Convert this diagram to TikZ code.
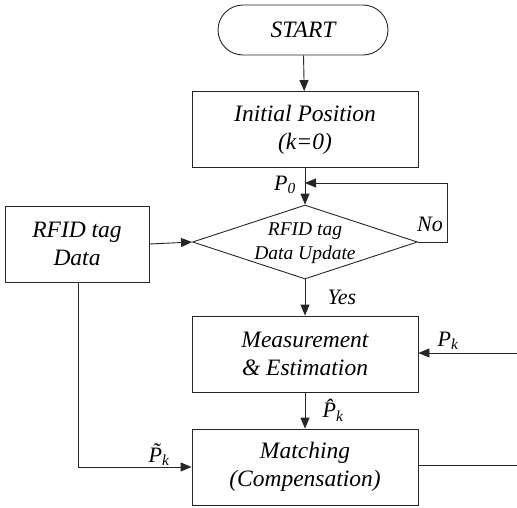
\documentclass[tikz,border=0pt]{standalone}
\usepackage{fontspec}
\setmainfont{Liberation Serif}[ItalicFont={Liberation Serif Italic},BoldItalicFont={Liberation Serif Bold Italic}]
\usetikzlibrary{shapes.geometric,shapes.misc,arrows.meta}
\begin{document}
\begin{tikzpicture}[x=1pt,y=-1pt,
  line/.style={draw=black!85,line width=0.9pt},
  arr/.style={line,-{Triangle[length=11pt,width=9pt]}},
  boxnode/.style={line,rectangle,minimum width=226pt,minimum height=76pt,inner sep=0pt,align=center,font=\fontsize{23.5}{28}\selectfont\itshape},
  lbl/.style={inner sep=0pt,font=\fontsize{22}{26}\selectfont\itshape}]
\useasboundingbox (0,0) rectangle (517,507);
\node[line,rounded rectangle,minimum width=170pt,minimum height=50pt,inner sep=0pt,font=\fontsize{23.5}{28}\selectfont\itshape] (start) at (303,30) {START};
\node[boxnode] (init) at (305,129.5) {Initial Position\\(k=0)};
\node[line,diamond,minimum width=225pt,minimum height=74pt,inner sep=0pt] (dec) at (305,242) {\phantom{x}};
\node[align=center,inner sep=0pt,font=\fontsize{19.5}{24}\selectfont\itshape] (dectext) at (305,243) {RFID tag\\Data Update};
\node[boxnode,minimum width=144pt] (rfid) at (77,244) {RFID tag\\Data};
\node[boxnode] (meas) at (305,354) {Measurement\\\& Estimation};
\node[boxnode] (match) at (305,467) {Matching\\(Compensation)};
\coordinate (loopc) at (447,183);
\coordinate (join) at (305,183);
\coordinate (pin) at (517,353);
\coordinate (corner) at (78,467);
\coordinate (pout) at (517,465);
\draw[arr] (start) -- (init);
\draw[arr] (init) -- (dec);
\draw[arr] (dec.east) -| (loopc) -- (join);
\draw[arr] (rfid.east) -- (dec.west);
\draw[arr] (dec.south) -- (meas);
\draw[arr] (pin) -- (meas.east |- pin);
\draw[arr] (meas) -- (match);
\draw[arr] (rfid.south -| corner) -- (corner) -- (match.west |- corner);
\draw[line] (match.east |- pout) -- (pout);
\node[lbl] (p0) at (285,185) {P\textsubscript{0}};
\node[lbl] (no) at (430,224) {No};
\node[lbl] (yes) at (342,297) {Yes};
\node[lbl] (pk) at (448,341) {P\textsubscript{k}};
\node[lbl] (phat) at (333,410) {\^{P}\textsubscript{k}};
\node[lbl] (ptil) at (159,455) {\~{P}\textsubscript{k}};
\end{tikzpicture}
\end{document}
